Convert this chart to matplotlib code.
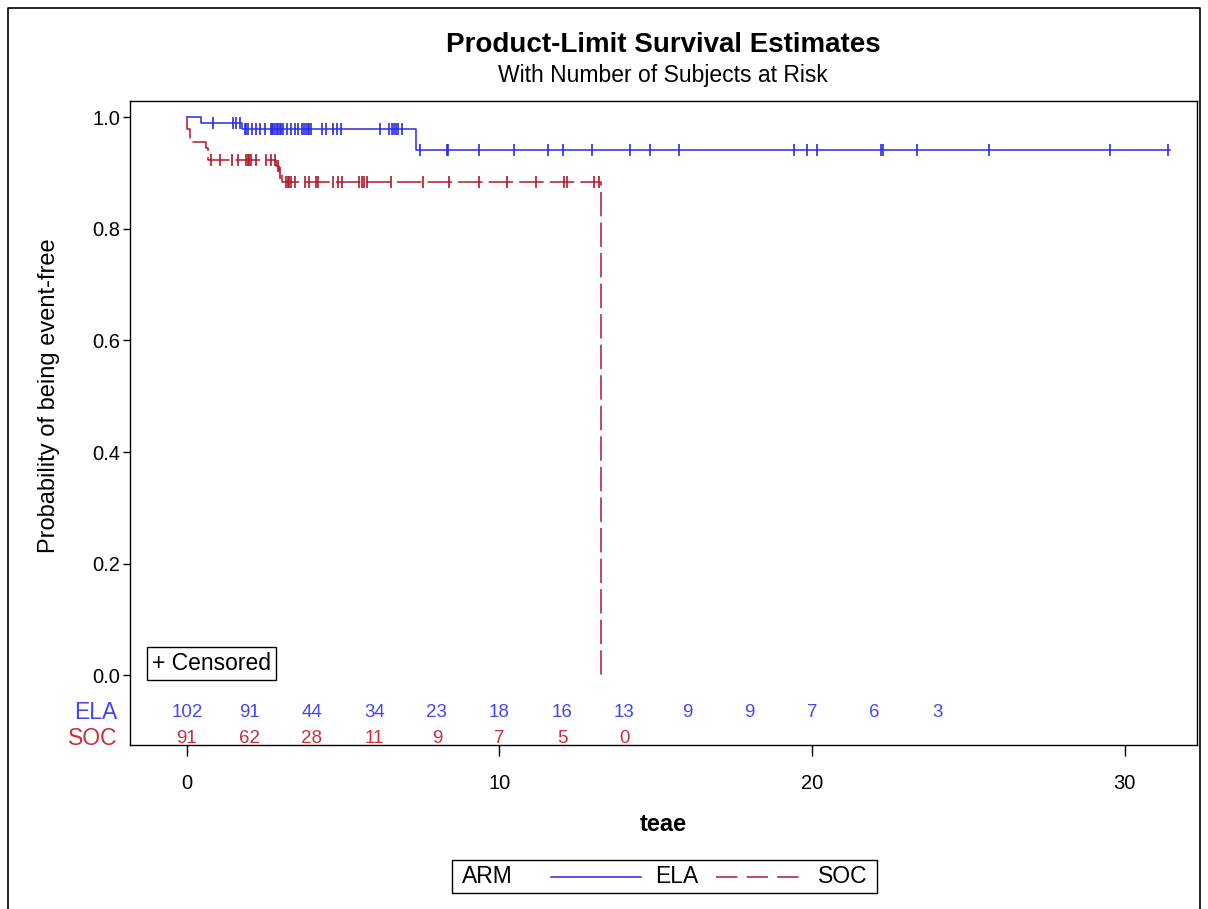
import numpy as np
import matplotlib.pyplot as plt
from matplotlib.lines import Line2D
from matplotlib.patches import Rectangle

plt.rcParams['font.family'] = ['Liberation Sans', 'DejaVu Sans']

# Kaplan-Meier step data (event times and survival after them)
ela_times = [0.0, 0.45, 1.75, 7.33, 31.45]
ela_surv = [1.0, 0.989, 0.978, 0.941, 0.941]
soc_times = [0.0, 0.02, 0.10, 0.60, 0.68, 2.85, 2.95, 3.03, 13.25]
soc_surv = [1.0, 0.978, 0.956, 0.945, 0.923, 0.912, 0.900, 0.884, 0.0]

# censoring times
ela_censor = [0.84, 1.48, 1.56, 1.70,
              1.86, 1.90, 1.94, 2.07, 2.21, 2.34, 2.50, 2.68, 2.72, 2.77, 2.82,
              2.87, 2.92, 2.97, 3.02, 3.06, 3.19, 3.33, 3.46, 3.56, 3.68, 3.74,
              3.80, 3.86, 3.92, 3.98, 4.31, 4.45, 4.68, 4.79, 4.92, 6.18, 6.48,
              6.55, 6.62, 6.69, 6.76, 6.87,
              7.46, 8.31, 8.36, 9.34, 10.47, 11.56, 12.04, 12.97, 14.18, 14.82,
              15.74, 19.43, 19.85, 20.15, 22.20, 22.26, 23.37, 25.66, 29.54, 31.40]
soc_censor = [0.76, 1.06, 1.43, 1.64, 1.90, 1.95, 2.00, 2.05, 2.21, 2.53, 2.68,
              2.82, 2.90, 2.99, 3.17, 3.22, 3.27, 3.32, 3.46, 3.78, 3.91, 4.13,
              4.18, 4.68, 4.82, 4.95, 5.52, 5.60, 5.68, 5.75, 6.53, 7.55, 8.38,
              9.34, 10.25, 11.16, 12.06, 12.15, 13.02, 13.18]

# number at risk table
risk_times = [0, 2, 4, 6, 8, 10, 12, 14, 16, 18, 20, 22, 24]
ela_risk = [102, 91, 44, 34, 23, 18, 16, 13, 9, 9, 7, 6, 3]
soc_risk = [91, 62, 28, 11, 9, 7, 5, 0]

BLUE = '#2a2ae6'
RED = '#b2182b'
BLUE_TXT = '#4646f0'
RED_TXT = '#c8303e'


def surv_at(times, surv, t):
    idx = np.searchsorted(times, t, side='right') - 1
    return np.asarray(surv)[idx]


def main():
    fig = plt.figure(figsize=(12.08, 9.09), dpi=100)
    ax = fig.add_axes([0.1076, 0.1804, 0.8834, 0.7085])

    dash = (0, (16, 4))
    ax.step(ela_times, ela_surv, where='post', color=BLUE, lw=1.1)
    ax.step(soc_times, soc_surv, where='post', color=RED, lw=1.1, linestyle=dash)

    # censor marks
    ax.plot(ela_censor, surv_at(ela_times, ela_surv, ela_censor), '|',
            color=BLUE, ms=9, mew=1.2)
    ax.plot(soc_censor, surv_at(soc_times, soc_surv, soc_censor), '|',
            color=RED, ms=9, mew=1.2)

    # at-risk rows
    for t, n in zip(risk_times, ela_risk):
        ax.text(t, -0.066, str(n), color=BLUE_TXT, fontsize=13.5,
                ha='center', va='center')
    for t, n in zip(risk_times, soc_risk):
        ax.text(t, -0.113, str(n), color=RED_TXT, fontsize=13.5,
                ha='center', va='center')
    trans = ax.get_yaxis_transform()
    ax.text(-0.012, -0.066, 'ELA', color=BLUE_TXT, fontsize=16.5,
            ha='right', va='center', transform=trans)
    ax.text(-0.012, -0.113, 'SOC', color=RED_TXT, fontsize=16.5,
            ha='right', va='center', transform=trans)

    ax.text(0.0206, 0.126, '+ Censored', transform=ax.transAxes, fontsize=16.5,
            ha='left', va='center',
            bbox=dict(boxstyle='square,pad=0.22', fc='white', ec='black', lw=1))

    ax.set_xlim(-1.82, 32.32)
    ax.set_ylim(-0.125, 1.029)
    ax.set_xticks([0, 10, 20, 30])
    ax.set_yticks([0.0, 0.2, 0.4, 0.6, 0.8, 1.0])
    ax.set_yticklabels(['0.0', '0.2', '0.4', '0.6', '0.8', '1.0'])
    ax.tick_params(axis='both', labelsize=14.5, direction='out', width=1)
    ax.tick_params(axis='x', length=8, pad=13)
    ax.tick_params(axis='y', length=5, pad=2)
    for s in ax.spines.values():
        s.set_linewidth(1)

    ax.set_xlabel('teae', fontsize=17, fontweight='bold')
    ax.xaxis.set_label_coords(0.5, -0.105)
    ax.set_ylabel('Probability of being event-free', fontsize=17)
    ax.yaxis.set_label_coords(-0.066, 0.543)

    fig.text(0.549, 0.950, 'Product-Limit Survival Estimates', fontsize=20,
             fontweight='bold', ha='center', va='center')
    fig.text(0.549, 0.917, 'With Number of Subjects at Risk', fontsize=16.5,
             ha='center', va='center')

    # bottom legend box
    fig.patches.append(Rectangle((0.374, 0.0176), 0.352, 0.0363,
                                 transform=fig.transFigure, fill=False,
                                 ec='black', lw=1))
    fig.text(0.3825, 0.0355, 'ARM', fontsize=16.5, ha='left', va='center')
    fig.lines.append(Line2D([0.456, 0.531], [0.0355, 0.0355], color=BLUE,
                            lw=1.1, transform=fig.transFigure))
    fig.text(0.542, 0.0355, 'ELA', fontsize=16.5, ha='left', va='center')
    fig.lines.append(Line2D([0.593, 0.662], [0.0355, 0.0355], color=RED,
                            lw=1.1, linestyle=(0, (14, 6)),
                            transform=fig.transFigure))
    fig.text(0.677, 0.0355, 'SOC', fontsize=16.5, ha='left', va='center')

    # outer frame of the graph
    fig.lines.append(Line2D([0.0066, 0.0066, 0.9934, 0.9934],
                            [0.0, 0.9912, 0.9912, 0.0], color='black', lw=1.2,
                            transform=fig.transFigure))

    fig.savefig('out.png', dpi=100)


if __name__ == '__main__':
    main()
